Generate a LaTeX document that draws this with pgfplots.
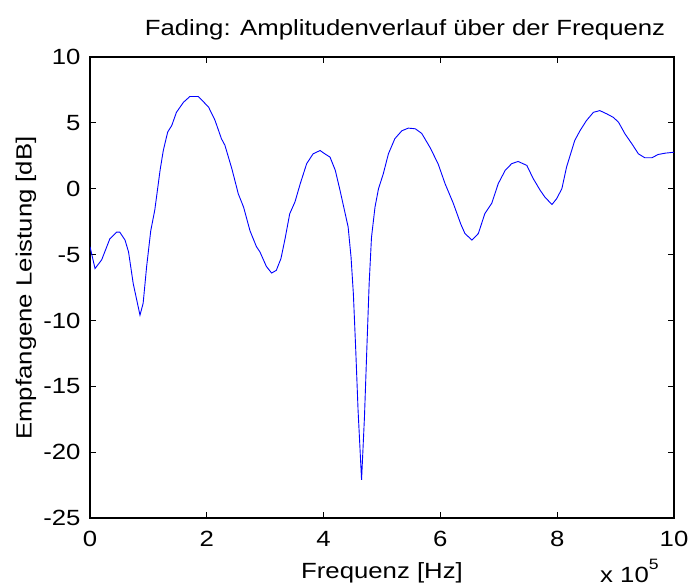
\documentclass[border=0pt]{standalone}
\usepackage{fontspec}
\setmainfont{Liberation Sans}[FakeStretch=1.17]
\usepackage{pgfplots}
\pgfplotsset{compat=1.18}
\begin{document}
\fontsize{22bp}{26bp}\selectfont
\begin{tikzpicture}
\path[use as bounding box] (-90bp,-68bp) rectangle (601bp,518bp);
\begin{axis}[
  at={(0bp,0bp)}, anchor=south west,
  scale only axis, width=584bp, height=461bp,
  xmin=0, xmax=10, ymin=-25, ymax=10,
  xtick={0,2,...,10}, ytick={-25,-20,...,10},
  tick align=inside, major tick length=6bp,
  xtick pos=both, ytick pos=both,
  axis line style={draw=black, line width=1.3bp},
  tick style={draw=black, line width=1.2bp},
  /pgf/number format/assume math mode=true,
  ticklabel style={font=\fontsize{22bp}{26bp}\selectfont},
  xticklabel style={yshift=-6bp},
  yticklabel style={xshift=-2bp},
  clip=true,
]
\addplot[color={rgb,1:red,0;green,0;blue,1}, line width=0.9bp] coordinates {
(0,-4.4) (0.086,-6.06) (0.2,-5.4) (0.34,-3.8) (0.457,-3.3) (0.51,-3.3)
(0.6,-3.9) (0.66,-4.8) (0.74,-7.2) (0.856,-9.6) (0.91,-8.7) (0.97,-5.9)
(1.04,-3.2) (1.11,-1.6) (1.2,1.4) (1.255,2.9) (1.33,4.3) (1.4,4.8)
(1.48,5.8) (1.6,6.56) (1.71,7.0) (1.855,7.0) (2.03,6.2) (2.14,5.2)
(2.25,3.8) (2.31,3.3) (2.43,1.5) (2.54,-0.4) (2.63,-1.4) (2.74,-3.2)
(2.85,-4.4) (2.91,-4.8) (3.02,-5.9) (3.11,-6.4) (3.19,-6.2) (3.27,-5.3)
(3.34,-3.8) (3.42,-1.9) (3.51,-1.0) (3.6,0.38) (3.71,1.9) (3.82,2.65)
(3.94,2.9) (4.02,2.65) (4.11,2.4) (4.2,1.4) (4.28,-0.1) (4.37,-1.9)
(4.42,-2.9) (4.47,-5.2) (4.51,-8.0) (4.55,-12.2) (4.59,-16.8) (4.65,-22.1)
(4.70,-17.3) (4.74,-12.2) (4.78,-7.2) (4.82,-3.7) (4.88,-1.4) (4.94,0.0)
(5.02,1.1) (5.11,2.65) (5.22,3.8) (5.34,4.4) (5.45,4.6) (5.57,4.55)
(5.68,4.2) (5.82,3.15) (5.96,1.9) (6.08,0.38) (6.22,-1.1) (6.35,-2.7)
(6.42,-3.4) (6.54,-3.9) (6.65,-3.4) (6.76,-1.9) (6.88,-1.1) (6.99,0.38)
(7.11,1.4) (7.22,1.9) (7.33,2.07) (7.48,1.77) (7.59,0.76) (7.71,-0.13)
(7.79,-0.64) (7.91,-1.2) (7.99,-0.76) (8.08,0.0) (8.16,1.64) (8.3,3.66)
(8.39,4.4) (8.5,5.17) (8.62,5.8) (8.73,5.93) (8.85,5.68) (8.96,5.42)
(9.05,5.05) (9.16,4.17) (9.28,3.4) (9.39,2.65) (9.5,2.35) (9.62,2.35)
(9.73,2.6) (9.85,2.7) (10.0,2.77)
};
\end{axis}
\node at (315bp,488bp) {Fading: Amplitudenverlauf über der Frequenz};
\node at (292bp,-55bp) {Frequenz [Hz]};
\node[anchor=base west, inner sep=0pt] at (510bp,-64bp) {x 10\raisebox{0.55em}{\fontsize{15bp}{17bp}\selectfont 5}};
\node[rotate=90] at (-64bp,230bp) {Empfangene Leistung [dB]};
\end{tikzpicture}
\end{document}
